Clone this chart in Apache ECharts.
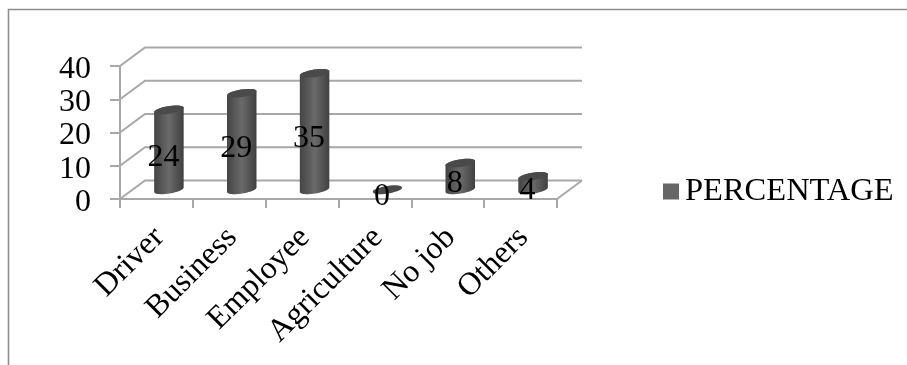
<!DOCTYPE html>
<html>
<head>
<meta charset="utf-8">
<style>html,body{margin:0;padding:0;background:#fff}#chart{width:907px;height:365px}</style>
<script src="https://cdn.jsdelivr.net/npm/echarts@6/dist/echarts.min.js"></script>
</head>
<body>
<div id="chart"></div>
<script>
// Occupation share, drawn as cylinders standing on a box-style floor.
const categories = ['Driver', 'Business', 'Employee', 'Agriculture', 'No job', 'Others'];
const percentage = [24, 29, 35, 0, 8, 4];
const wallTicks = [0, 10, 20, 30, 40];

const FONT = '"Liberation Serif", "Times New Roman", serif';
const DEPTH_X = 25, DEPTH_Y = 18.5;   // how far the back wall sits from the front plane
const TILT = 9 * Math.PI / 180;       // slant of the cylinder caps
const LINE = '#a8a8a8';

function ellipsePoints(cx, cy, rx, ry, from, to) {
  const pts = [];
  const n = 28;
  for (let k = 0; k <= n; k++) {
    const t = from + (to - from) * k / n;
    const ex = rx * Math.cos(t), ey = ry * Math.sin(t);
    pts.push([cx + ex * Math.cos(TILT) + ey * Math.sin(TILT),
              cy - ex * Math.sin(TILT) + ey * Math.cos(TILT)]);
  }
  return pts;
}

function renderWall(params, api) {
  const v = api.value(0);
  const front = api.coord([0, v]);
  const left = front[0] - api.size([1, 0])[0] / 2;
  const right = left + api.size([1, 0])[0] * categories.length;
  const y = front[1];
  const children = [{
    type: 'polyline',
    shape: { points: [[left, y], [left + DEPTH_X, y - DEPTH_Y], [right + DEPTH_X, y - DEPTH_Y]] },
    style: { stroke: LINE, lineWidth: 2, fill: null }
  }];
  if (v === 0) {
    children.push({
      type: 'line',
      shape: { x1: right, y1: y, x2: right + DEPTH_X, y2: y - DEPTH_Y },
      style: { stroke: LINE, lineWidth: 2 }
    });
  }
  return { type: 'group', children };
}

function renderCylinder(params, api) {
  const i = api.value(0), v = api.value(1);
  const base = api.coord([i, 0]), top = api.coord([i, v]);
  const rx = api.size([1, 0])[0] * 0.205, ry = 3.8;
  const cx = base[0] + DEPTH_X / 2;
  const baseY = base[1] - DEPTH_Y / 2, topY = top[1] - DEPTH_Y / 2;
  const children = [];
  if (v > 0) {
    children.push({
      type: 'polygon',
      shape: { points: ellipsePoints(cx, baseY, rx, ry, Math.PI, 0)
        .concat(ellipsePoints(cx, topY, rx, ry, 0, -Math.PI)) },
      style: {
        fill: new echarts.graphic.LinearGradient(0, 0, 1, 0, [
          { offset: 0, color: '#444444' },
          { offset: 0.5, color: '#6a6a6a' },
          { offset: 1, color: '#404040' }
        ])
      }
    });
  }
  children.push({
    type: 'polygon',
    shape: { points: ellipsePoints(cx, topY, rx, ry, 0, Math.PI * 2) },
    style: { fill: '#4a4a4a' }
  });
  children.push({
    type: 'text',
    style: {
      text: String(v),
      x: base[0] + 7,
      y: api.coord([i, v / 2])[1] - 2,
      align: 'center',
      verticalAlign: 'middle',
      font: '32px ' + FONT,
      fill: '#000'
    }
  });
  return { type: 'group', children };
}

const chart = echarts.init(document.getElementById('chart'), null, { renderer: 'canvas' });
chart.setOption({
  animation: false,
  backgroundColor: '#fff',
  grid: { left: 120, top: 66, width: 437, height: 133, containLabel: false },
  legend: {
    data: ['PERCENTAGE'],
    left: 658,
    top: 170,
    icon: 'rect',
    itemWidth: 16,
    itemHeight: 16,
    textStyle: { fontFamily: FONT, fontSize: 32.5, color: '#000', padding: [0, 0, 0, 1] }
  },
  xAxis: {
    type: 'category',
    data: categories,
    axisLine: { show: true, lineStyle: { color: LINE, width: 2 } },
    axisTick: { show: true, length: 9, lineStyle: { color: LINE, width: 2 } },
    axisLabel: { rotate: 45, margin: 31, verticalAlign: 'top', lineHeight: 8, fontFamily: FONT, fontSize: 32, color: '#000', interval: 0 },
    splitLine: { show: false }
  },
  yAxis: {
    type: 'value',
    min: 0,
    max: 40,
    interval: 10,
    axisLine: { show: true, lineStyle: { color: LINE, width: 2 } },
    axisTick: { show: true, length: 10, lineStyle: { color: LINE, width: 2 } },
    axisLabel: { margin: 29, verticalAlign: 'top', lineHeight: 7, fontFamily: FONT, fontSize: 32, color: '#000' },
    splitLine: { show: false }
  },
  series: [
    {
      name: 'wall',
      type: 'custom',
      coordinateSystem: 'cartesian2d',
      renderItem: renderWall,
      data: wallTicks.map(function (t) { return [t]; }),
      encode: { y: 0 },
      clip: false,
      silent: true,
      z: 1
    },
    {
      name: 'PERCENTAGE',
      type: 'custom',
      coordinateSystem: 'cartesian2d',
      renderItem: renderCylinder,
      data: percentage.map(function (v, i) { return [i, v]; }),
      encode: { x: 0, y: 1 },
      itemStyle: { color: '#666666' },
      clip: false,
      z: 3
    }
  ],
  graphic: [
    { type: 'polyline', silent: true,
      shape: { points: [[8.5, 365], [8.5, 9.5], [907, 9.5]] },
      style: { stroke: '#8e8e8e', lineWidth: 1.6, fill: null } }
  ]
});
</script>
</body>
</html>
